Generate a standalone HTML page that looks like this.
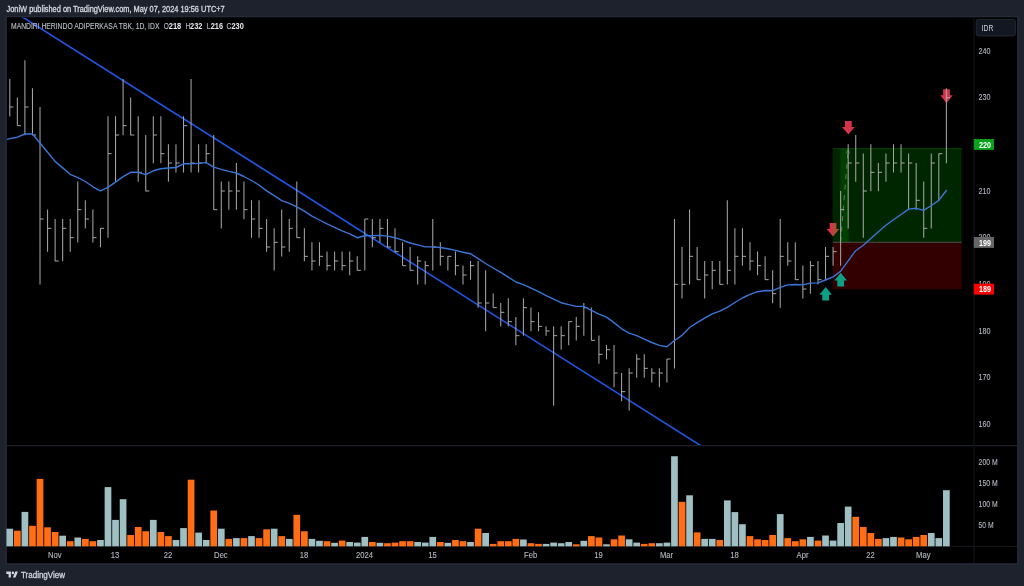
<!DOCTYPE html>
<html lang="en"><head><meta charset="utf-8"><title>MAHA chart - TradingView snapshot</title>
<style>html,body{margin:0;padding:0;background:#1e222d;overflow:hidden}body{width:1024px;height:586px;position:relative;font-family:'Liberation Sans', Arial, sans-serif}svg{position:absolute;left:0;top:0;display:block}text{font-family:'Liberation Sans', Arial, sans-serif}</style>
</head><body>
<svg width="1024" height="586" viewBox="0 0 1024 586">
<rect x="0" y="0" width="1024" height="586" fill="#1e222d"/>
<rect x="5.4" y="15.9" width="1013.2" height="548.8" fill="#262a37"/>
<rect x="6.9" y="17.3" width="1010.2" height="545.9" fill="#000"/>
<line x1="7" y1="445.6" x2="1017" y2="445.6" stroke="#1d2029" stroke-width="1.2"/>
<line x1="7" y1="546.4" x2="1017" y2="546.4" stroke="#17191f" stroke-width="1"/>
<line x1="974" y1="17.5" x2="974" y2="563" stroke="#101217" stroke-width="1.3"/>
<text x="6.5" y="12.2" font-size="8.3" fill="#d6d9e1" stroke="#d6d9e1" stroke-width="0.3" textLength="218.2" lengthAdjust="spacingAndGlyphs">JoniW published on TradingView.com, May 07, 2024 19:56 UTC+7</text>
<defs><clipPath id="mp"><rect x="7" y="17.5" width="966.5" height="427.6"/></clipPath>
</defs>
<g clip-path="url(#mp)">
<line x1="14.6" y1="12" x2="705.25" y2="448.5" stroke="#2056e4" stroke-width="1.6"/>
<path transform="translate(833.0,223.0)" d="M-3.4 0h6.8v5.9h2.9L0 13.6L-6.3 5.9h2.9z" fill="#d63348"/>
<path transform="translate(848.3,121.0)" d="M-3.4 0h6.8v5.9h2.9L0 13.6L-6.3 5.9h2.9z" fill="#d63348"/>
<path transform="translate(946.5,89.3)" d="M-3.4 0h6.8v5.9h2.9L0 13.6L-6.3 5.9h2.9z" fill="#d63348"/>
<rect x="832.7" y="148.3" width="129.0" height="94.0" fill="rgb(0,190,0)" fill-opacity="0.2"/>
<rect x="840.5" y="148.3" width="8.1" height="94.0" fill="rgb(0,210,0)" fill-opacity="0.15"/>
<rect x="832.7" y="242.3" width="129.0" height="47.0" fill="rgb(255,0,0)" fill-opacity="0.2"/>
<line x1="832.7" y1="148.6" x2="961.7" y2="148.6" stroke="#0a4a0a" stroke-width="0.8"/>
<line x1="832.7" y1="242.3" x2="961.7" y2="242.3" stroke="#5c625c" stroke-width="0.8"/>
<path d="M840.6 242L848.1 150.5" stroke="#6d8c6d" stroke-width="0.8" stroke-dasharray="5 5.5" fill="none"/>
<path d="M846.2 153.2L848.2 149.6L849.6 153.4" stroke="#6d8c6d" stroke-width="0.7" fill="none"/>
<path transform="translate(825.7,287.0)" d="M-3.4 13.6h6.8v-5.9h2.9L0 0L-6.3 7.7h2.9z" fill="#0e9f85"/>
<path transform="translate(840.7,272.8)" d="M-3.4 13.6h6.8v-5.9h2.9L0 0L-6.3 7.7h2.9z" fill="#0e9f85"/>
<path d="M9.80 78.90V116.53M17.35 97.57V125.87M24.91 60.23V135.20M32.46 88.23V135.20M40.01 106.90V284.53M47.56 209.57V251.87M55.12 218.90V261.20M62.67 218.90V261.20M70.22 218.90V251.87M77.78 181.57V242.53M85.33 200.23V228.53M92.88 209.57V242.53M100.44 228.23V247.20M107.99 116.23V237.87M115.54 116.23V181.87M123.09 78.90V135.20M130.65 97.57V135.20M138.20 116.23V181.87M145.75 134.90V191.20M153.31 116.23V163.20M160.86 116.23V163.20M168.41 144.23V181.87M175.97 144.23V172.53M183.52 116.23V172.53M191.07 78.90V172.53M198.62 144.23V172.53M206.18 144.23V163.20M213.73 134.90V209.87M221.28 181.57V228.53M228.84 181.57V209.87M236.39 162.90V209.87M243.94 181.57V219.20M251.50 200.23V237.87M259.05 200.23V237.87M266.60 218.90V251.87M274.16 228.23V270.53M281.71 209.57V256.53M289.26 218.90V251.87M296.81 181.57V237.87M304.37 228.23V261.20M311.92 242.23V270.53M319.47 242.23V265.87M327.03 251.57V270.53M334.58 251.57V270.53M342.13 251.57V270.53M349.69 251.57V275.20M357.24 256.23V270.53M364.79 218.90V270.53M372.34 218.90V247.20M379.90 218.90V242.53M387.45 218.90V247.20M395.00 228.23V251.87M402.56 242.23V265.87M410.11 246.90V270.53M417.66 256.23V284.53M425.22 260.90V284.53M432.77 218.90V270.53M440.32 242.23V265.87M447.87 256.23V270.53M455.43 251.57V275.20M462.98 265.57V284.53M470.53 260.90V279.87M478.09 260.90V307.87M485.64 270.23V331.20M493.19 293.57V307.87M500.75 302.90V326.54M508.30 298.24V326.54M515.85 316.90V345.20M523.40 298.24V335.87M530.96 307.57V331.20M538.51 312.24V331.20M546.06 326.24V335.87M553.62 326.24V405.87M561.17 326.24V349.87M568.72 321.57V345.20M576.27 316.90V340.54M583.83 302.90V335.87M591.38 307.57V340.54M598.93 335.57V363.87M606.49 344.90V359.20M614.04 344.90V387.20M621.59 372.90V401.20M629.15 368.24V410.54M636.70 354.24V377.87M644.25 354.24V377.87M651.80 368.24V382.54M659.36 368.24V387.20M666.91 358.90V382.54M674.46 218.90V368.54M682.02 246.90V298.54M689.57 209.57V284.53M697.12 246.90V279.87M704.68 260.90V298.54M712.23 260.90V289.20M719.78 260.90V284.53M727.33 200.23V284.53M734.89 228.23V284.53M742.44 228.23V265.87M749.99 242.23V270.53M757.55 251.57V275.20M765.10 256.23V279.87M772.65 270.23V303.20M780.21 218.90V307.87M787.76 242.23V265.87M795.31 242.23V279.87M802.86 265.57V298.54M810.42 260.90V293.87M817.97 260.90V284.53M825.52 246.90V279.87M833.08 246.90V265.87M840.63 190.90V265.87M848.18 144.23V228.53M855.74 134.90V181.87M863.29 153.57V237.87M870.84 144.23V191.20M878.39 162.90V191.20M885.95 153.57V181.87M893.50 144.23V172.53M901.05 144.23V172.53M908.61 153.57V209.87M916.16 162.90V209.87M923.71 181.57V237.87M931.27 153.57V228.53M938.82 153.57V200.53M946.37 88.23V163.20" stroke="#a4a4a4" stroke-width="1.05" fill="none"/>
<path d="M9.80 107.00h3.6M17.35 125.67h3.6M24.91 107.00h3.6M32.46 135.00h3.6M40.01 219.00h3.6M47.56 228.33h3.6M55.12 261.00h3.6M62.67 228.33h3.6M70.22 237.67h3.6M77.78 209.67h3.6M85.33 219.00h3.6M92.88 237.67h3.6M100.44 228.33h3.6M107.99 153.67h3.6M115.54 135.00h3.6M123.09 125.67h3.6M130.65 135.00h3.6M138.20 172.33h3.6M145.75 191.00h3.6M153.31 135.00h3.6M160.86 153.67h3.6M168.41 163.00h3.6M175.97 163.00h3.6M183.52 125.67h3.6M191.07 163.00h3.6M198.62 163.00h3.6M206.18 153.67h3.6M213.73 209.67h3.6M221.28 191.00h3.6M228.84 191.00h3.6M236.39 191.00h3.6M243.94 209.67h3.6M251.50 219.00h3.6M259.05 228.33h3.6M266.60 247.00h3.6M274.16 242.33h3.6M281.71 247.00h3.6M289.26 228.33h3.6M296.81 237.67h3.6M304.37 256.33h3.6M311.92 261.00h3.6M319.47 256.33h3.6M327.03 265.67h3.6M334.58 261.00h3.6M342.13 265.67h3.6M349.69 261.00h3.6M357.24 270.33h3.6M364.79 219.00h3.6M372.34 237.67h3.6M379.90 228.33h3.6M387.45 247.00h3.6M395.00 251.67h3.6M402.56 265.67h3.6M410.11 270.33h3.6M417.66 261.00h3.6M425.22 265.67h3.6M432.77 247.00h3.6M440.32 256.33h3.6M447.87 256.33h3.6M455.43 265.67h3.6M462.98 275.00h3.6M470.53 265.67h3.6M478.09 303.00h3.6M485.64 303.00h3.6M493.19 307.67h3.6M500.75 312.34h3.6M508.30 321.67h3.6M515.85 335.67h3.6M523.40 307.67h3.6M530.96 321.67h3.6M538.51 326.34h3.6M546.06 331.00h3.6M553.62 335.67h3.6M561.17 335.67h3.6M568.72 321.67h3.6M576.27 326.34h3.6M583.83 307.67h3.6M591.38 340.34h3.6M598.93 354.34h3.6M606.49 349.67h3.6M614.04 373.00h3.6M621.59 391.67h3.6M629.15 373.00h3.6M636.70 359.00h3.6M644.25 368.34h3.6M651.80 373.00h3.6M659.36 373.00h3.6M666.91 359.00h3.6M674.46 284.33h3.6M682.02 284.33h3.6M689.57 256.33h3.6M697.12 279.67h3.6M704.68 275.00h3.6M712.23 270.33h3.6M719.78 284.33h3.6M727.33 270.33h3.6M734.89 256.33h3.6M742.44 256.33h3.6M749.99 261.00h3.6M757.55 265.67h3.6M765.10 279.67h3.6M772.65 293.67h3.6M780.21 256.33h3.6M787.76 261.00h3.6M795.31 279.67h3.6M802.86 289.00h3.6M810.42 265.67h3.6M817.97 279.67h3.6M825.52 256.33h3.6M833.08 251.67h3.6M840.63 209.67h3.6M848.18 163.00h3.6M855.74 163.00h3.6M863.29 191.00h3.6M870.84 172.33h3.6M878.39 172.33h3.6M885.95 163.00h3.6M893.50 163.00h3.6M901.05 163.00h3.6M908.61 163.00h3.6M916.16 200.33h3.6M923.71 228.33h3.6M931.27 163.00h3.6M938.82 153.67h3.6M946.37 97.67h3.6" stroke="#b0b0b0" stroke-width="0.95" fill="none"/>
<polyline points="7,139.4 9.8,138.6 17.4,137.2 24.9,134.0 32.5,134.0 40.0,143.0 47.6,152.2 55.1,161.4 62.7,167.9 70.2,174.3 77.8,177.6 85.3,181.5 92.9,186.8 100.4,190.9 108.0,187.4 115.5,182.1 123.1,176.6 130.6,172.3 138.2,172.3 145.8,174.7 153.3,170.8 160.9,168.8 168.4,168.0 176.0,167.5 183.5,163.8 191.1,163.8 198.6,163.4 206.2,162.6 213.7,167.1 221.3,169.4 228.8,171.4 236.4,173.0 243.9,176.5 251.5,180.5 259.0,185.0 266.6,190.9 274.2,195.7 281.7,200.6 289.3,203.4 296.8,206.9 304.4,211.2 311.9,216.1 319.5,220.0 327.0,223.9 334.6,227.4 342.1,230.9 349.7,233.8 357.2,237.7 364.8,235.8 372.3,235.6 379.9,235.4 387.4,236.1 395.0,237.7 402.6,240.2 410.1,243.0 417.7,244.9 425.2,246.9 432.8,246.9 440.3,247.5 447.9,248.8 455.4,250.4 463.0,252.3 470.5,253.7 478.1,258.6 485.6,263.5 493.2,268.0 500.7,272.3 508.3,277.1 515.9,282.0 523.4,284.7 531.0,288.2 538.5,291.7 546.1,295.6 553.6,299.1 561.2,302.7 568.7,304.6 576.3,306.4 583.8,306.4 591.4,310.3 598.9,314.2 606.5,317.1 614.0,322.6 621.6,328.8 629.1,333.1 636.7,335.7 644.3,339.2 651.8,342.5 659.4,345.4 666.9,346.8 674.5,340.5 682.0,335.3 689.6,327.5 697.1,322.6 704.7,318.1 712.2,313.8 719.8,311.2 727.3,307.3 734.9,302.5 742.4,298.0 750.0,294.3 757.5,291.7 765.1,290.5 772.7,290.7 780.2,287.4 787.8,284.9 795.3,284.5 802.9,284.9 810.4,283.1 818.0,282.9 825.5,280.0 833.1,276.9 840.6,271.2 848.2,260.8 855.7,250.7 863.3,245.2 870.8,238.4 878.4,231.7 885.9,225.3 893.5,219.8 901.1,214.5 908.6,209.1 916.2,208.3 923.7,210.4 931.3,205.5 938.8,200.3 946.4,190.5" stroke="#3a76d8" stroke-width="1.4" fill="none" stroke-linejoin="round" stroke-linecap="round"/>
</g>
<text x="11" y="28.8" font-size="8.3" fill="#b8bbc4" stroke="#b8bbc4" stroke-width="0.15" textLength="148.4" lengthAdjust="spacingAndGlyphs">MANDIRI HERINDO ADIPERKASA TBK, 1D, IDX</text>
<text x="163.8" y="28.8" font-size="8.3" fill="#b8bbc4" stroke="#b8bbc4" stroke-width="0.15" textLength="5.1" lengthAdjust="spacingAndGlyphs">O</text>
<text x="168.7" y="28.8" font-size="8.3" font-weight="bold" fill="#e6e8ee" textLength="12.6" lengthAdjust="spacingAndGlyphs">218</text>
<text x="185.4" y="28.8" font-size="8.3" fill="#b8bbc4" stroke="#b8bbc4" stroke-width="0.15" textLength="4.9" lengthAdjust="spacingAndGlyphs">H</text>
<text x="190.1" y="28.8" font-size="8.3" font-weight="bold" fill="#e6e8ee" textLength="12.4" lengthAdjust="spacingAndGlyphs">232</text>
<text x="206.7" y="28.8" font-size="8.3" fill="#b8bbc4" stroke="#b8bbc4" stroke-width="0.15" textLength="3.9" lengthAdjust="spacingAndGlyphs">L</text>
<text x="210.7" y="28.8" font-size="8.3" font-weight="bold" fill="#e6e8ee" textLength="12.3" lengthAdjust="spacingAndGlyphs">216</text>
<text x="226.6" y="28.8" font-size="8.3" fill="#b8bbc4" stroke="#b8bbc4" stroke-width="0.15" textLength="5.0" lengthAdjust="spacingAndGlyphs">C</text>
<text x="231.5" y="28.8" font-size="8.3" font-weight="bold" fill="#e6e8ee" textLength="12.3" lengthAdjust="spacingAndGlyphs">230</text>
<rect x="6.45" y="528.70" width="6.7" height="17.60" fill="#a0bfc3"/>
<rect x="14.00" y="530.70" width="6.7" height="15.60" fill="#ff6e14"/>
<rect x="21.56" y="511.90" width="6.7" height="34.40" fill="#a0bfc3"/>
<rect x="29.11" y="525.80" width="6.7" height="20.50" fill="#ff6e14"/>
<rect x="36.66" y="478.90" width="6.7" height="67.40" fill="#ff6e14"/>
<rect x="44.21" y="527.30" width="6.7" height="19.00" fill="#ff6e14"/>
<rect x="51.77" y="532.00" width="6.7" height="14.30" fill="#ff6e14"/>
<rect x="59.32" y="535.70" width="6.7" height="10.60" fill="#a0bfc3"/>
<rect x="66.87" y="541.20" width="6.7" height="5.10" fill="#ff6e14"/>
<rect x="74.43" y="537.50" width="6.7" height="8.80" fill="#a0bfc3"/>
<rect x="81.98" y="538.90" width="6.7" height="7.40" fill="#ff6e14"/>
<rect x="89.53" y="541.20" width="6.7" height="5.10" fill="#ff6e14"/>
<rect x="97.09" y="540.00" width="6.7" height="6.30" fill="#a0bfc3"/>
<rect x="104.64" y="487.10" width="6.7" height="59.20" fill="#a0bfc3"/>
<rect x="112.19" y="519.90" width="6.7" height="26.40" fill="#a0bfc3"/>
<rect x="119.75" y="499.20" width="6.7" height="47.10" fill="#a0bfc3"/>
<rect x="127.30" y="535.00" width="6.7" height="11.30" fill="#ff6e14"/>
<rect x="134.85" y="527.00" width="6.7" height="19.30" fill="#ff6e14"/>
<rect x="142.40" y="531.25" width="6.7" height="15.05" fill="#ff6e14"/>
<rect x="149.96" y="519.90" width="6.7" height="26.40" fill="#a0bfc3"/>
<rect x="157.51" y="532.00" width="6.7" height="14.30" fill="#ff6e14"/>
<rect x="165.06" y="536.10" width="6.7" height="10.20" fill="#ff6e14"/>
<rect x="172.62" y="540.00" width="6.7" height="6.30" fill="#a0bfc3"/>
<rect x="180.17" y="528.10" width="6.7" height="18.20" fill="#a0bfc3"/>
<rect x="187.72" y="479.70" width="6.7" height="66.60" fill="#ff6e14"/>
<rect x="195.28" y="532.60" width="6.7" height="13.70" fill="#a0bfc3"/>
<rect x="202.83" y="540.00" width="6.7" height="6.30" fill="#a0bfc3"/>
<rect x="210.38" y="510.50" width="6.7" height="35.80" fill="#ff6e14"/>
<rect x="217.93" y="528.70" width="6.7" height="17.60" fill="#a0bfc3"/>
<rect x="225.49" y="538.90" width="6.7" height="7.40" fill="#ff6e14"/>
<rect x="233.04" y="538.10" width="6.7" height="8.20" fill="#a0bfc3"/>
<rect x="240.59" y="538.10" width="6.7" height="8.20" fill="#ff6e14"/>
<rect x="248.15" y="536.10" width="6.7" height="10.20" fill="#a0bfc3"/>
<rect x="255.70" y="538.10" width="6.7" height="8.20" fill="#ff6e14"/>
<rect x="263.25" y="529.30" width="6.7" height="17.00" fill="#ff6e14"/>
<rect x="270.81" y="528.70" width="6.7" height="17.60" fill="#a0bfc3"/>
<rect x="278.36" y="536.10" width="6.7" height="10.20" fill="#ff6e14"/>
<rect x="285.91" y="538.90" width="6.7" height="7.40" fill="#a0bfc3"/>
<rect x="293.46" y="514.80" width="6.7" height="31.50" fill="#ff6e14"/>
<rect x="301.02" y="531.25" width="6.7" height="15.05" fill="#ff6e14"/>
<rect x="308.57" y="538.90" width="6.7" height="7.40" fill="#a0bfc3"/>
<rect x="316.12" y="540.80" width="6.7" height="5.50" fill="#a0bfc3"/>
<rect x="323.68" y="541.20" width="6.7" height="5.10" fill="#ff6e14"/>
<rect x="331.23" y="542.80" width="6.7" height="3.50" fill="#a0bfc3"/>
<rect x="338.78" y="540.60" width="6.7" height="5.70" fill="#ff6e14"/>
<rect x="346.33" y="542.00" width="6.7" height="4.30" fill="#a0bfc3"/>
<rect x="353.89" y="542.60" width="6.7" height="3.70" fill="#a0bfc3"/>
<rect x="361.44" y="536.90" width="6.7" height="9.40" fill="#a0bfc3"/>
<rect x="368.99" y="542.00" width="6.7" height="4.30" fill="#ff6e14"/>
<rect x="376.55" y="542.80" width="6.7" height="3.50" fill="#a0bfc3"/>
<rect x="384.10" y="543.20" width="6.7" height="3.10" fill="#ff6e14"/>
<rect x="391.65" y="542.60" width="6.7" height="3.70" fill="#ff6e14"/>
<rect x="399.21" y="541.20" width="6.7" height="5.10" fill="#ff6e14"/>
<rect x="406.76" y="541.20" width="6.7" height="5.10" fill="#ff6e14"/>
<rect x="414.31" y="542.00" width="6.7" height="4.30" fill="#a0bfc3"/>
<rect x="421.87" y="542.60" width="6.7" height="3.70" fill="#a0bfc3"/>
<rect x="429.42" y="536.90" width="6.7" height="9.40" fill="#a0bfc3"/>
<rect x="436.97" y="542.00" width="6.7" height="4.30" fill="#ff6e14"/>
<rect x="444.52" y="542.80" width="6.7" height="3.50" fill="#a0bfc3"/>
<rect x="452.08" y="540.00" width="6.7" height="6.30" fill="#ff6e14"/>
<rect x="459.63" y="541.20" width="6.7" height="5.10" fill="#ff6e14"/>
<rect x="467.18" y="542.00" width="6.7" height="4.30" fill="#a0bfc3"/>
<rect x="474.74" y="528.70" width="6.7" height="17.60" fill="#ff6e14"/>
<rect x="482.29" y="533.00" width="6.7" height="13.30" fill="#a0bfc3"/>
<rect x="489.84" y="543.90" width="6.7" height="2.40" fill="#ff6e14"/>
<rect x="497.39" y="541.20" width="6.7" height="5.10" fill="#ff6e14"/>
<rect x="504.95" y="541.20" width="6.7" height="5.10" fill="#ff6e14"/>
<rect x="512.50" y="538.90" width="6.7" height="7.40" fill="#ff6e14"/>
<rect x="520.05" y="539.50" width="6.7" height="6.80" fill="#a0bfc3"/>
<rect x="527.61" y="543.20" width="6.7" height="3.10" fill="#ff6e14"/>
<rect x="535.16" y="543.90" width="6.7" height="2.40" fill="#ff6e14"/>
<rect x="542.71" y="543.90" width="6.7" height="2.40" fill="#a0bfc3"/>
<rect x="550.27" y="542.60" width="6.7" height="3.70" fill="#a0bfc3"/>
<rect x="557.82" y="543.20" width="6.7" height="3.10" fill="#a0bfc3"/>
<rect x="565.37" y="542.00" width="6.7" height="4.30" fill="#a0bfc3"/>
<rect x="572.92" y="544.30" width="6.7" height="2.00" fill="#ff6e14"/>
<rect x="580.48" y="540.80" width="6.7" height="5.50" fill="#a0bfc3"/>
<rect x="588.03" y="536.10" width="6.7" height="10.20" fill="#ff6e14"/>
<rect x="595.58" y="537.50" width="6.7" height="8.80" fill="#ff6e14"/>
<rect x="603.14" y="544.30" width="6.7" height="2.00" fill="#a0bfc3"/>
<rect x="610.69" y="539.30" width="6.7" height="7.00" fill="#ff6e14"/>
<rect x="618.24" y="535.50" width="6.7" height="10.80" fill="#ff6e14"/>
<rect x="625.80" y="539.30" width="6.7" height="7.00" fill="#a0bfc3"/>
<rect x="633.35" y="542.60" width="6.7" height="3.70" fill="#a0bfc3"/>
<rect x="640.90" y="543.90" width="6.7" height="2.40" fill="#ff6e14"/>
<rect x="648.45" y="543.20" width="6.7" height="3.10" fill="#ff6e14"/>
<rect x="656.01" y="543.20" width="6.7" height="3.10" fill="#a0bfc3"/>
<rect x="663.56" y="542.60" width="6.7" height="3.70" fill="#a0bfc3"/>
<rect x="671.11" y="456.25" width="6.7" height="90.05" fill="#a0bfc3"/>
<rect x="678.67" y="501.80" width="6.7" height="44.50" fill="#ff6e14"/>
<rect x="686.22" y="495.30" width="6.7" height="51.00" fill="#a0bfc3"/>
<rect x="693.77" y="532.40" width="6.7" height="13.90" fill="#ff6e14"/>
<rect x="701.33" y="538.90" width="6.7" height="7.40" fill="#a0bfc3"/>
<rect x="708.88" y="538.90" width="6.7" height="7.40" fill="#a0bfc3"/>
<rect x="716.43" y="540.00" width="6.7" height="6.30" fill="#ff6e14"/>
<rect x="723.98" y="500.40" width="6.7" height="45.90" fill="#a0bfc3"/>
<rect x="731.54" y="512.10" width="6.7" height="34.20" fill="#a0bfc3"/>
<rect x="739.09" y="524.20" width="6.7" height="22.10" fill="#a0bfc3"/>
<rect x="746.64" y="536.10" width="6.7" height="10.20" fill="#ff6e14"/>
<rect x="754.20" y="539.30" width="6.7" height="7.00" fill="#ff6e14"/>
<rect x="761.75" y="540.00" width="6.7" height="6.30" fill="#ff6e14"/>
<rect x="769.30" y="535.00" width="6.7" height="11.30" fill="#ff6e14"/>
<rect x="776.86" y="514.10" width="6.7" height="32.20" fill="#a0bfc3"/>
<rect x="784.41" y="538.10" width="6.7" height="8.20" fill="#ff6e14"/>
<rect x="791.96" y="541.20" width="6.7" height="5.10" fill="#ff6e14"/>
<rect x="799.51" y="539.30" width="6.7" height="7.00" fill="#ff6e14"/>
<rect x="807.07" y="536.90" width="6.7" height="9.40" fill="#a0bfc3"/>
<rect x="814.62" y="540.60" width="6.7" height="5.70" fill="#ff6e14"/>
<rect x="822.17" y="535.50" width="6.7" height="10.80" fill="#a0bfc3"/>
<rect x="829.73" y="540.60" width="6.7" height="5.70" fill="#a0bfc3"/>
<rect x="837.28" y="523.00" width="6.7" height="23.30" fill="#a0bfc3"/>
<rect x="844.83" y="506.60" width="6.7" height="39.70" fill="#a0bfc3"/>
<rect x="852.39" y="516.80" width="6.7" height="29.50" fill="#ff6e14"/>
<rect x="859.94" y="527.00" width="6.7" height="19.30" fill="#ff6e14"/>
<rect x="867.49" y="533.00" width="6.7" height="13.30" fill="#ff6e14"/>
<rect x="875.04" y="538.90" width="6.7" height="7.40" fill="#ff6e14"/>
<rect x="882.60" y="538.10" width="6.7" height="8.20" fill="#a0bfc3"/>
<rect x="890.15" y="536.90" width="6.7" height="9.40" fill="#a0bfc3"/>
<rect x="897.70" y="537.50" width="6.7" height="8.80" fill="#ff6e14"/>
<rect x="905.26" y="539.30" width="6.7" height="7.00" fill="#ff6e14"/>
<rect x="912.81" y="536.90" width="6.7" height="9.40" fill="#ff6e14"/>
<rect x="920.36" y="535.00" width="6.7" height="11.30" fill="#ff6e14"/>
<rect x="927.92" y="533.00" width="6.7" height="13.30" fill="#a0bfc3"/>
<rect x="935.47" y="538.10" width="6.7" height="8.20" fill="#a0bfc3"/>
<rect x="943.02" y="490.20" width="6.7" height="56.10" fill="#a0bfc3"/>
<rect x="976.2" y="19.4" width="39.2" height="16.6" rx="2.2" fill="#131722" stroke="#2a2e39" stroke-width="0.8"/>
<text x="981.7" y="31.2" font-size="8.3" fill="#d1d4dc" textLength="11.6" lengthAdjust="spacingAndGlyphs">IDR</text>
<text x="978.6" y="53.6" font-size="9" fill="#b5b8c1" stroke="#b5b8c1" stroke-width="0.12" textLength="12" lengthAdjust="spacingAndGlyphs">240</text>
<text x="978.6" y="100.3" font-size="9" fill="#b5b8c1" stroke="#b5b8c1" stroke-width="0.12" textLength="12" lengthAdjust="spacingAndGlyphs">230</text>
<text x="978.6" y="193.6" font-size="9" fill="#b5b8c1" stroke="#b5b8c1" stroke-width="0.12" textLength="12" lengthAdjust="spacingAndGlyphs">210</text>
<text x="978.6" y="240.3" font-size="9" fill="#b5b8c1" stroke="#b5b8c1" stroke-width="0.12" textLength="12" lengthAdjust="spacingAndGlyphs">200</text>
<text x="978.6" y="286.9" font-size="9" fill="#b5b8c1" stroke="#b5b8c1" stroke-width="0.12" textLength="12" lengthAdjust="spacingAndGlyphs">190</text>
<text x="978.6" y="333.6" font-size="9" fill="#b5b8c1" stroke="#b5b8c1" stroke-width="0.12" textLength="12" lengthAdjust="spacingAndGlyphs">180</text>
<text x="978.6" y="380.3" font-size="9" fill="#b5b8c1" stroke="#b5b8c1" stroke-width="0.12" textLength="12" lengthAdjust="spacingAndGlyphs">170</text>
<text x="978.6" y="426.9" font-size="9" fill="#b5b8c1" stroke="#b5b8c1" stroke-width="0.12" textLength="12" lengthAdjust="spacingAndGlyphs">160</text>
<rect x="973.8" y="139.0" width="20.2" height="10.9" fill="#08a11c"/>
<text x="978.9" y="147.6" font-size="8.3" font-weight="bold" fill="#fff" textLength="12" lengthAdjust="spacingAndGlyphs">220</text>
<rect x="973.8" y="237.0" width="20.2" height="10.9" fill="#666666"/>
<text x="978.9" y="245.6" font-size="8.3" font-weight="bold" fill="#fff" textLength="12" lengthAdjust="spacingAndGlyphs">199</text>
<rect x="973.8" y="283.7" width="20.2" height="10.9" fill="#ff0000"/>
<text x="978.9" y="292.3" font-size="8.3" font-weight="bold" fill="#fff" textLength="12" lengthAdjust="spacingAndGlyphs">189</text>
<text x="978.6" y="465.2" font-size="8.5" fill="#b5b8c1" stroke="#b5b8c1" stroke-width="0.12" textLength="19.0" lengthAdjust="spacingAndGlyphs">200 M</text>
<text x="978.6" y="486.0" font-size="8.5" fill="#b5b8c1" stroke="#b5b8c1" stroke-width="0.12" textLength="19.0" lengthAdjust="spacingAndGlyphs">150 M</text>
<text x="978.6" y="506.9" font-size="8.5" fill="#b5b8c1" stroke="#b5b8c1" stroke-width="0.12" textLength="19.0" lengthAdjust="spacingAndGlyphs">100 M</text>
<text x="978.6" y="527.7" font-size="8.5" fill="#b5b8c1" stroke="#b5b8c1" stroke-width="0.12" textLength="15.0" lengthAdjust="spacingAndGlyphs">50 M</text>
<text transform="translate(54.7,558.2) scale(0.91,1)" font-size="8.4" fill="#b5b8c1" stroke="#b5b8c1" stroke-width="0.12" text-anchor="middle">Nov</text>
<text transform="translate(115.1,558.2) scale(0.91,1)" font-size="8.4" fill="#b5b8c1" stroke="#b5b8c1" stroke-width="0.12" text-anchor="middle">13</text>
<text transform="translate(168.0,558.2) scale(0.91,1)" font-size="8.4" fill="#b5b8c1" stroke="#b5b8c1" stroke-width="0.12" text-anchor="middle">22</text>
<text transform="translate(220.9,558.2) scale(0.91,1)" font-size="8.4" fill="#b5b8c1" stroke="#b5b8c1" stroke-width="0.12" text-anchor="middle">Dec</text>
<text transform="translate(304.0,558.2) scale(0.91,1)" font-size="8.4" fill="#b5b8c1" stroke="#b5b8c1" stroke-width="0.12" text-anchor="middle">18</text>
<text transform="translate(364.4,558.2) scale(0.91,1)" font-size="8.4" fill="#b5b8c1" stroke="#b5b8c1" stroke-width="0.12" text-anchor="middle">2024</text>
<text transform="translate(432.4,558.2) scale(0.91,1)" font-size="8.4" fill="#b5b8c1" stroke="#b5b8c1" stroke-width="0.12" text-anchor="middle">15</text>
<text transform="translate(530.6,558.2) scale(0.91,1)" font-size="8.4" fill="#b5b8c1" stroke="#b5b8c1" stroke-width="0.12" text-anchor="middle">Feb</text>
<text transform="translate(598.5,558.2) scale(0.91,1)" font-size="8.4" fill="#b5b8c1" stroke="#b5b8c1" stroke-width="0.12" text-anchor="middle">19</text>
<text transform="translate(666.5,558.2) scale(0.91,1)" font-size="8.4" fill="#b5b8c1" stroke="#b5b8c1" stroke-width="0.12" text-anchor="middle">Mar</text>
<text transform="translate(734.5,558.2) scale(0.91,1)" font-size="8.4" fill="#b5b8c1" stroke="#b5b8c1" stroke-width="0.12" text-anchor="middle">18</text>
<text transform="translate(802.5,558.2) scale(0.91,1)" font-size="8.4" fill="#b5b8c1" stroke="#b5b8c1" stroke-width="0.12" text-anchor="middle">Apr</text>
<text transform="translate(870.4,558.2) scale(0.91,1)" font-size="8.4" fill="#b5b8c1" stroke="#b5b8c1" stroke-width="0.12" text-anchor="middle">22</text>
<text transform="translate(923.3,558.2) scale(0.91,1)" font-size="8.4" fill="#b5b8c1" stroke="#b5b8c1" stroke-width="0.12" text-anchor="middle">May</text>
<g transform="translate(6.3,570.3) scale(0.328)" fill="#d1d4dc"><path d="M14 22H7V11H0V4h14v18zM28 22h-8l7.5-18h8L28 22z"/><circle cx="20" cy="8" r="4"/></g>
<text x="21" y="577.8" font-size="8.2" fill="#d1d4dc" stroke="#d1d4dc" stroke-width="0.3" textLength="44" lengthAdjust="spacingAndGlyphs">TradingView</text>
</svg>
</body></html>
